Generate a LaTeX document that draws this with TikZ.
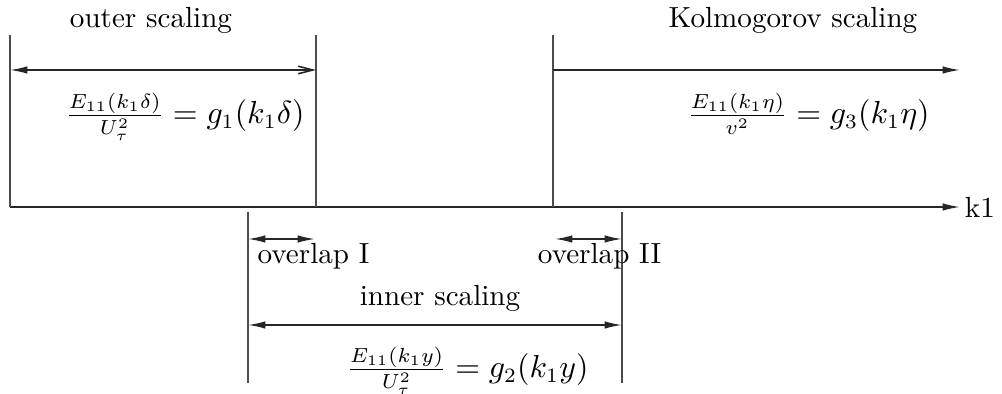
\documentclass[tikz,border=0pt]{standalone}
\usepackage{amsmath,amssymb}
\usepackage{tikz}
\usetikzlibrary{arrows.meta,positioning,calc}
\DeclareMathSizes{11}{11}{6.8}{5}

\begin{document}
\begin{tikzpicture}[x=0.1207cm, y=0.1207cm,
    guide/.style={black!70, line width=0.55pt},
    span/.style={black!85, line width=0.55pt},
    law/.style={font=\fontsize{11}{13}\selectfont},
    tip/.tip={Latex[length=6pt,width=2.6pt]},
    barb/.tip={Straight Barb[length=5pt,width=2.6pt]}]
    \useasboundingbox (0,0) rectangle (100.2,39.4);
    % wavenumber axis
    \coordinate (o) at (1.0,18.7);
    \coordinate (kend) at (96.0,18.7);
    \draw[span, -tip] (o) -- (kend);
    \node[right=1.5pt of kend, inner sep=0pt] (k1) {k1};
    % region limits above the axis
    \foreach \x/\n in {1.0/la, 31.6/lb, 55.3/lc} {
      \coordinate (\n top) at (\x,35.9);
      \coordinate (\n bot) at (\x,18.7);
      \draw[guide] (\n top) -- (\n bot);
    }
    % region limits below the axis
    \foreach \x/\n in {24.8/ld, 62.2/le} {
      \coordinate (\n top) at (\x,18.2);
      \coordinate (\n bot) at (\x,1.1);
      \draw[guide] (\n top) -- (\n bot);
    }
    % outer scaling
    \coordinate (outA) at (1.0,32.4);
    \coordinate (outB) at (31.6,32.4);
    \draw[span, tip-barb] (outA) -- (outB);
    \node (outer) at (15.1,37.4) {outer scaling};
    \node[law] (geq1) at (18.5,27.7) {$\frac{E_{11}(k_1\delta)}{U_\tau^2} = g_1(k_1\delta)$};
    % Kolmogorov scaling
    \coordinate (kolA) at (55.3,32.4);
    \coordinate (kolB) at (96.0,32.4);
    \draw[span, -tip] (kolA) -- (kolB);
    \node (kolmo) at (79.3,37.4) {Kolmogorov scaling};
    \node[law] (geq3) at (80.85,28.0) {$\frac{E_{11}(k_1\eta)}{v^2} = g_3(k_1\eta)$};
    % overlaps
    \coordinate (ovA) at (24.8,15.5);
    \coordinate (ovB) at (31.5,15.5);
    \coordinate (ovC) at (55.5,15.5);
    \coordinate (ovD) at (62.2,15.5);
    \draw[span, tip-tip] (ovA) -- (ovB);
    \draw[span, tip-tip] (ovC) -- (ovD);
    \node (ov1) at (31.35,13.75) {overlap I};
    \node (ov2) at (59.95,13.75) {overlap II};
    % inner scaling
    \coordinate (inA) at (24.8,6.9);
    \coordinate (inB) at (62.2,6.9);
    \draw[span, tip-tip] (inA) -- (inB);
    \node (inner) at (44.0,9.6) {inner scaling};
    \node[law] (geq2) at (46.75,2.3) {$\frac{E_{11}(k_1y)}{U_\tau^2} = g_2(k_1y)$};
\end{tikzpicture}
\end{document}
